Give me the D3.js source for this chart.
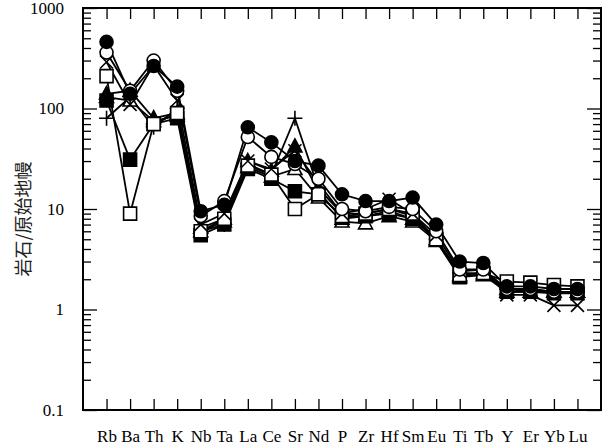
<!DOCTYPE html>
<html>
<head>
<meta charset="utf-8">
<script src="https://cdn.jsdelivr.net/npm/d3@7"></script>
<style>
  body { margin: 0; background: #fff; }
  svg text { font-family: "Liberation Serif", "Times New Roman", Times, serif; }
</style>
</head>
<body>
<svg id="chart" width="612" height="447"></svg>
<script>
const elementos = ["Rb", "Ba", "Th", "K", "Nb", "Ta", "La", "Ce", "Sr", "Nd", "P", "Zr", "Hf", "Sm", "Eu", "Ti", "Tb", "Y", "Er", "Yb", "Lu"];

const amostraCirculoCheio = [460, 140, 265, 165, 9.5, 11, 65, 46, 30, 27, 14, 12, 12, 13, 7, 3, 2.9, 1.7, 1.7, 1.6, 1.6];
const amostraCirculoVazio = [360, 150, 300, 150, 8.5, 12, 52, 33, 28, 20, 10, 9.5, 10.5, 10, 6, 2.5, 2.5, 1.6, 1.6, 1.5, 1.5];
const amostraX = [290, 110, 270, 120, 7, 9, 30, 25, 38, 18, 9, 10, 12.5, 9, 5.5, 2.4, 2.5, 1.4, 1.4, 1.1, 1.1];
const amostraQuadradoVazio = [210, 9, 70, 90, 6, 8, 27, 22, 10, 14, 8.5, 9, 10, 9, 5, 2.2, 2.3, 1.9, 1.85, 1.75, 1.7];
const amostraQuadradoCheio = [120, 31, 70, 80, 5.5, 7, 25, 20, 15, 14, 8.5, 8.5, 9, 8, 5, 2.1, 2.3, 1.5, 1.5, 1.45, 1.45];
const amostraMais = [80, 130, 65, 100, 6, 7, 28, 22, 80, 16, 9, 9, 10, 8.5, 5, 2.3, 2.3, 1.6, 1.6, 1.5, 1.5];
const amostraTrianguloCheio = [140, 150, 80, 90, 6.5, 8, 30, 24, 42, 15, 8, 8.5, 9.5, 8, 5, 2.2, 2.3, 1.6, 1.5, 1.5, 1.5];
const amostraTrianguloVazio = [130, 120, 75, 85, 6, 7.5, 26, 21, 25, 13, 7.5, 7.2, 8.5, 7.5, 4.8, 2.1, 2.2, 1.5, 1.5, 1.5, 1.5];

const tickValoresY = [0.1, 1, 10, 100, 1000];
const rotuloY = "岩石/原始地幔";

const series = [
  { valores: amostraTrianguloVazio, marca: "triangulo", cheio: false },
  { valores: amostraTrianguloCheio, marca: "triangulo", cheio: true },
  { valores: amostraMais, marca: "mais", cheio: false },
  { valores: amostraQuadradoCheio, marca: "quadrado", cheio: true },
  { valores: amostraQuadradoVazio, marca: "quadrado", cheio: false },
  { valores: amostraX, marca: "x", cheio: false },
  { valores: amostraCirculoVazio, marca: "circulo", cheio: false },
  { valores: amostraCirculoCheio, marca: "circulo", cheio: true },
];

const W = 612;
const H = 447;
const margin = { top: 8, right: 11, bottom: 37, left: 83 };
const plotW = W - margin.left - margin.right;
const plotH = H - margin.top - margin.bottom;
const fonteSerif = "'Liberation Serif', 'Times New Roman', Times, serif";

const x = d3.scalePoint().domain(elementos).range([0, plotW]).padding(1);
const y = d3.scaleLog().domain([0.1, 1000]).range([plotH, 0]);

const menores = [];
for (let dec = 0.1; dec < 1000; dec *= 10) {
  for (let k = 2; k <= 9; k++) menores.push(+(dec * k).toPrecision(3));
}

const svg = d3.select("#chart");
const g = svg.append("g").attr("transform", `translate(${margin.left},${margin.top})`);

const estiloEixo = (sel) => {
  sel.select(".domain").remove();
  sel.selectAll("line").attr("stroke", "#000").attr("stroke-width", 1.3);
};

// eixo esquerdo
g.append("g")
  .call(d3.axisLeft(y).tickValues(menores).tickSize(-8).tickFormat(""))
  .call(estiloEixo);
g.append("g")
  .call(d3.axisLeft(y).tickValues(tickValoresY).tickSize(-14).tickPadding(19).tickFormat(d3.format("")))
  .call(estiloEixo)
  .call((sel) => sel.selectAll("text").attr("fill", "#000").attr("font-size", "17px").style("font-family", fonteSerif));

// eixo direito
g.append("g")
  .attr("transform", `translate(${plotW},0)`)
  .call(d3.axisRight(y).tickValues(menores).tickSize(-8).tickFormat(""))
  .call(estiloEixo);
g.append("g")
  .attr("transform", `translate(${plotW},0)`)
  .call(d3.axisRight(y).tickValues(tickValoresY).tickSize(-14).tickFormat(""))
  .call(estiloEixo);

// eixo inferior
g.append("g")
  .attr("transform", `translate(0,${plotH})`)
  .call(d3.axisBottom(x).tickSize(-11).tickPadding(20))
  .call(estiloEixo)
  .call((sel) => sel.selectAll("text").attr("fill", "#000").attr("font-size", "17px").style("font-family", fonteSerif));

// eixo superior
g.append("g")
  .call(d3.axisTop(x).tickSize(-11).tickFormat(""))
  .call(estiloEixo);

g.append("rect")
  .attr("width", plotW)
  .attr("height", plotH)
  .attr("fill", "none")
  .attr("stroke", "#000")
  .attr("stroke-width", 2);

svg.append("text")
  .attr("transform", `translate(25,${margin.top + plotH / 2 + 10}) rotate(-90)`)
  .attr("text-anchor", "middle")
  .attr("dominant-baseline", "middle")
  .attr("font-size", "18px")
  .attr("fill", "#222")
  .style("font-family", "'Noto Sans CJK SC', sans-serif")
  .text(rotuloY);

const linha = d3.line()
  .x((d, i) => x(elementos[i]))
  .y((d) => y(d));

series.forEach((s) => {
  g.append("path")
    .datum(s.valores)
    .attr("fill", "none")
    .attr("stroke", "#000")
    .attr("stroke-width", 1.8)
    .attr("d", linha);
});

const formas = {
  circulo: "M6.5,0A6.5,6.5 0 1,1 -6.5,0A6.5,6.5 0 1,1 6.5,0Z",
  quadrado: "M-6.5,-6.5H6.5V6.5H-6.5Z",
  triangulo: "M0,-7.5L7,5.5L-7,5.5Z",
  x: "M-6.5,-6.5L6.5,6.5M-6.5,6.5L6.5,-6.5",
  mais: "M-7.5,0H7.5M0,-7.5V7.5",
};

series.forEach((s) => {
  g.selectAll(null)
    .data(s.valores)
    .join("path")
    .attr("transform", (d, i) => `translate(${x(elementos[i])},${y(d)})`)
    .attr("d", formas[s.marca])
    .attr("fill", s.marca === "x" || s.marca === "mais" ? "none" : (s.cheio ? "#000" : "#fff"))
    .attr("stroke", "#000")
    .attr("stroke-width", 1.6);
});
</script>
</body>
</html>
